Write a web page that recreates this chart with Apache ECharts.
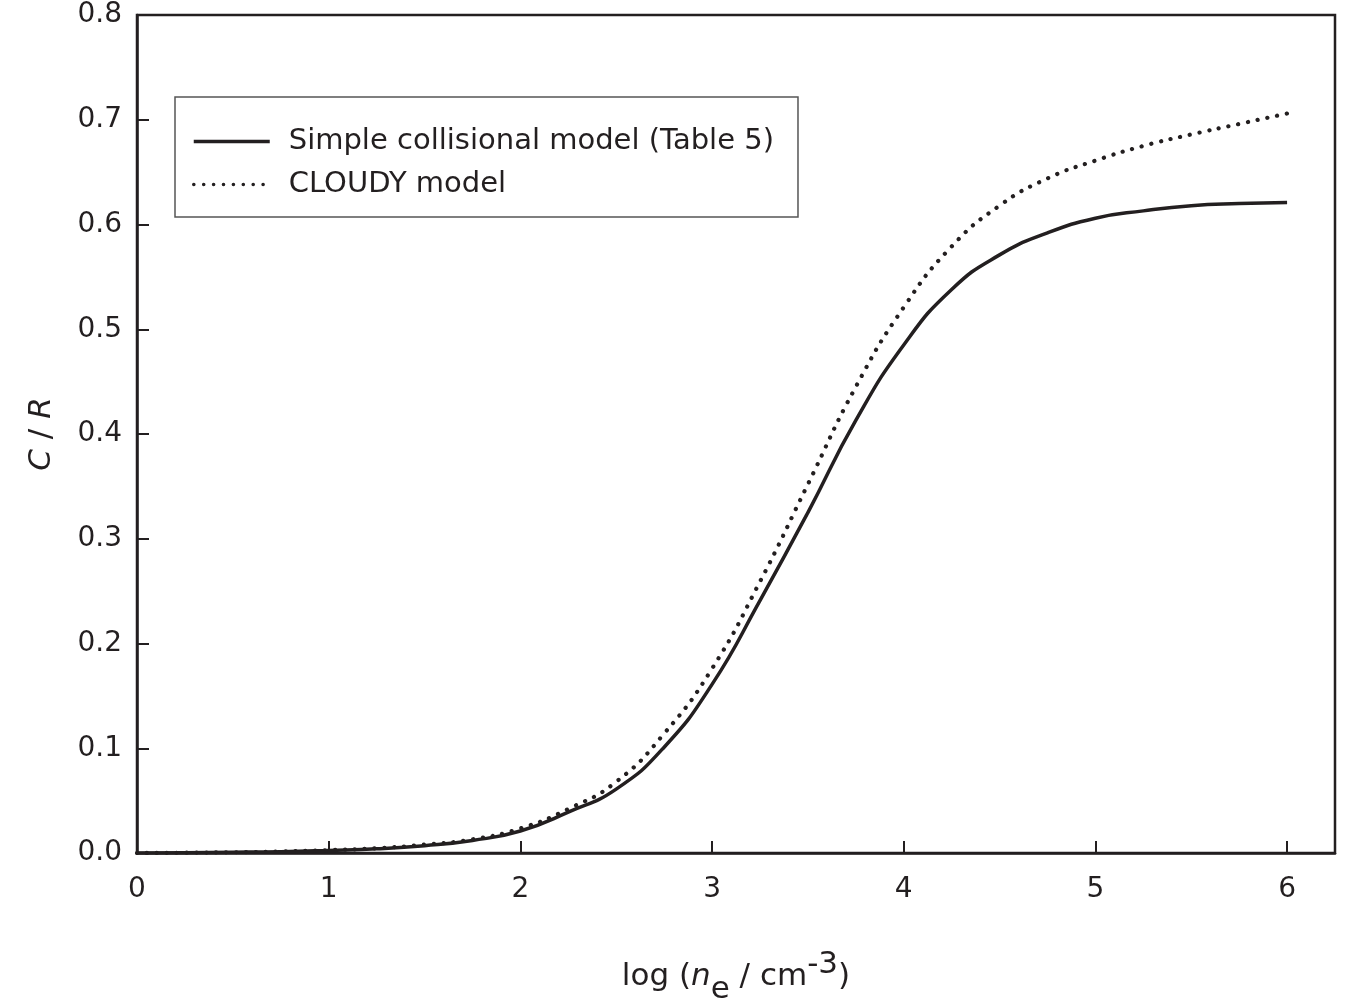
<!DOCTYPE html>
<html>
<head>
<meta charset="utf-8">
<title>C / R versus electron density</title>
<script src="https://cdn.jsdelivr.net/npm/echarts@6/dist/echarts.min.js"></script>
<style>
  html, body { margin: 0; padding: 0; background: #fff; }
  #chart { width: 1351px; height: 1003px; }
</style>
</head>
<body>
<div id="chart"></div>
<script>
// log(n_e / cm^-3) sample points
const logNe = [0, 0.25, 0.5, 0.75, 1.0, 1.25, 1.5, 1.75, 2.0, 2.25, 2.5, 2.75, 3.0,
               3.25, 3.5, 3.75, 4.0, 4.25, 4.5, 4.75, 5.0, 5.25, 5.5, 5.75, 6.0];

// C/R from the simple collisional model (Table 5)
const simpleCR = [0.000, 0.0003, 0.0007, 0.0013, 0.0025, 0.004, 0.007, 0.012, 0.021, 0.039,
                  0.061, 0.101, 0.161, 0.241, 0.325, 0.413, 0.485, 0.538, 0.571, 0.592,
                  0.606, 0.613, 0.618, 0.620, 0.621];

// C/R from the CLOUDY model
const cloudyCR = [0.000, 0.0003, 0.0007, 0.0014, 0.0027, 0.0045, 0.008, 0.013, 0.0235, 0.042,
                  0.068, 0.114, 0.176, 0.259, 0.352, 0.445, 0.521, 0.579, 0.618, 0.644,
                  0.661, 0.675, 0.686, 0.696, 0.706];

const xTicks = [0, 1, 2, 3, 4, 5, 6];
const seriesNames = ['Simple collisional model (Table 5)', 'CLOUDY model'];

const ink = '#231f20';
const font = 'DejaVu Sans, Arial, Helvetica, sans-serif';

const pairs = (xs, ys) => xs.map((x, i) => [x, ys[i]]);

const chart = echarts.init(document.getElementById('chart'));
chart.setOption({
  animation: false,
  backgroundColor: '#fff',
  textStyle: { fontFamily: font, color: ink },
  grid: {
    left: 137, top: 15, right: 16, bottom: 150,
    outerBoundsMode: 'none',
    containLabel: false,
    show: true, borderColor: ink, borderWidth: 2.5, backgroundColor: 'transparent'
  },
  legend: {
    orient: 'vertical',
    left: 175, top: 97,
    padding: [30, 24, 18, 17],
    itemGap: 14,
    itemWidth: 76,
    itemHeight: 14,
    borderColor: '#555',
    borderWidth: 1.5,
    backgroundColor: '#fff',
    lineStyle: { width: 3.5 },
    itemStyle: { color: 'transparent', borderColor: 'transparent', borderWidth: 0, opacity: 0 },
    textStyle: { fontSize: 29, lineHeight: 29, color: ink, fontFamily: font, padding: [0, 0, 0, 14] },
    data: seriesNames
  },
  xAxis: {
    type: 'value',
    min: 0, max: 6.25, interval: 1,
    name: '{t|log (}{i|n}{sub|e}{t| / cm}{sup|-3}{t|)}',
    nameLocation: 'middle',
    nameGap: 96,
    nameTextStyle: {
      fontFamily: font, color: ink, fontSize: 31,
      rich: {
        t: { fontSize: 31, fontFamily: font, color: ink, verticalAlign: 'middle', lineHeight: 56 },
        i: { fontSize: 31, fontFamily: font, color: ink, fontStyle: 'italic', verticalAlign: 'middle', lineHeight: 56 },
        sub: { fontSize: 31, fontFamily: font, color: ink, verticalAlign: 'bottom', lineHeight: 56 },
        sup: { fontSize: 31, fontFamily: font, color: ink, verticalAlign: 'top', lineHeight: 56 }
      }
    },
    axisLine: { show: true, onZero: false, lineStyle: { color: ink, width: 2.5 } },
    axisTick: { show: true, inside: true, length: 12, lineStyle: { color: ink, width: 2 }, customValues: xTicks },
    axisLabel: { fontSize: 28, color: ink, fontFamily: font, margin: 23, customValues: xTicks },
    splitLine: { show: false }
  },
  yAxis: {
    type: 'value',
    min: 0, max: 0.8, interval: 0.1,
    name: '{i|C}{t| / }{i|R}',
    nameLocation: 'middle',
    nameGap: 80,
    nameTextStyle: {
      fontFamily: font, color: ink, fontSize: 31,
      rich: {
        t: { fontSize: 31, fontFamily: font, color: ink },
        i: { fontSize: 31, fontFamily: font, color: ink, fontStyle: 'italic' }
      }
    },
    axisLine: { show: true, onZero: false, lineStyle: { color: ink, width: 2.5 } },
    axisTick: { show: true, inside: true, length: 12, lineStyle: { color: ink, width: 2 } },
    axisLabel: {
      fontSize: 28, color: ink, fontFamily: font, margin: 15,
      formatter: v => v.toFixed(1)
    },
    splitLine: { show: false }
  },
  series: [
    {
      name: seriesNames[0],
      type: 'line',
      data: pairs(logNe, simpleCR),
      smooth: true,
      symbol: 'none',
      showSymbol: false,
      lineStyle: { color: ink, width: 3.5 },
      itemStyle: { color: ink },
      z: 3
    },
    {
      name: seriesNames[1],
      type: 'line',
      data: pairs(logNe, cloudyCR),
      smooth: true,
      symbol: 'none',
      showSymbol: false,
      lineStyle: { color: ink, width: 4.2, type: [0.1, 9.8], cap: 'round' },
      itemStyle: { color: ink },
      z: 2
    }
  ]
});
</script>
</body>
</html>
